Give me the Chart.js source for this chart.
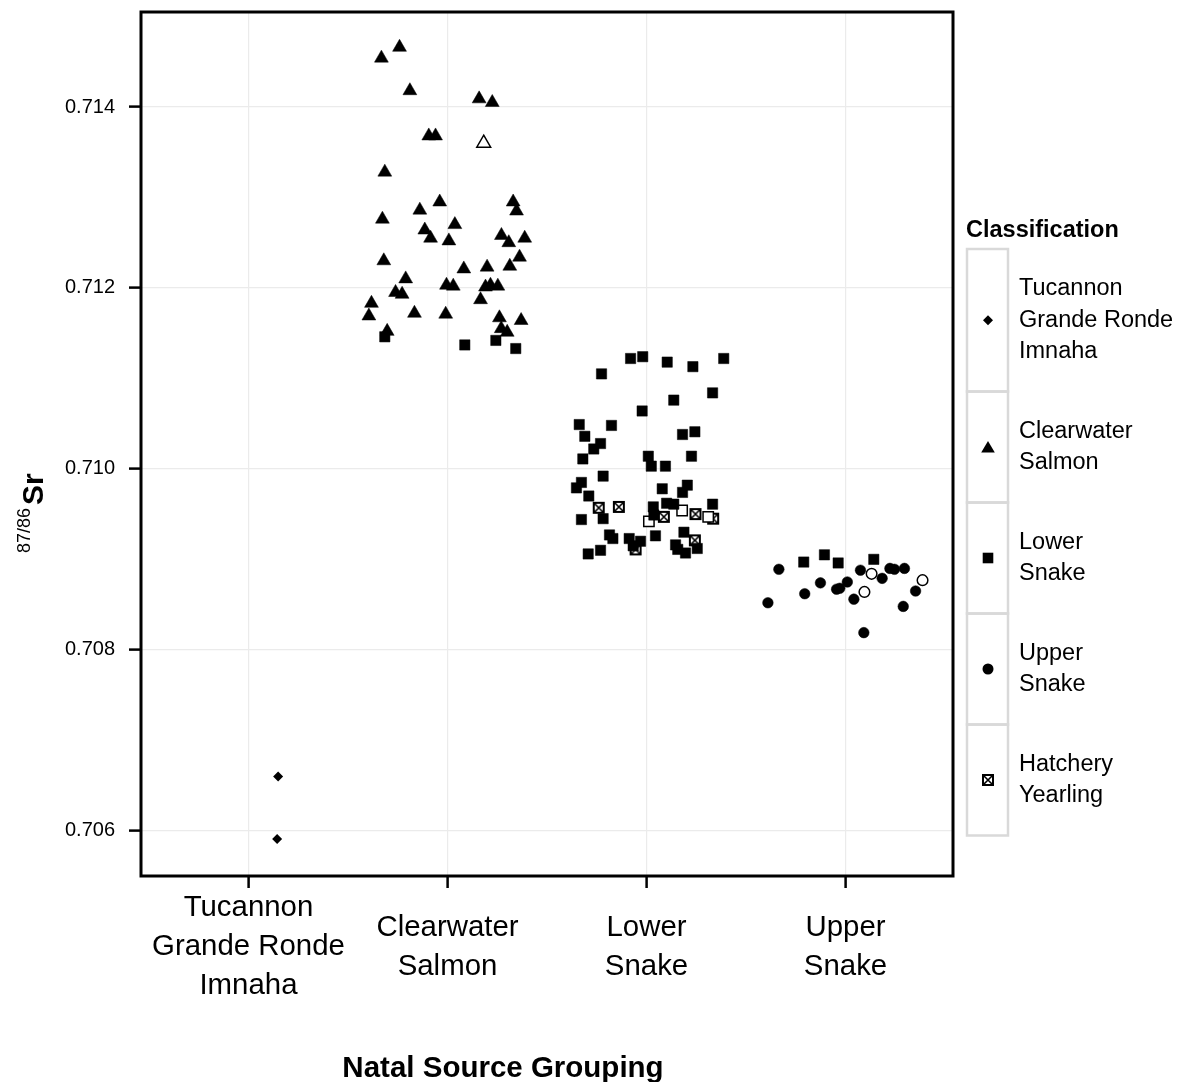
<!DOCTYPE html>
<html>
<head>
<meta charset="utf-8">
<script src="https://cdn.jsdelivr.net/npm/chart.js@4.4.0/dist/chart.umd.min.js"></script>
<style>
  html, body { margin: 0; padding: 0; background: #fff; }
  #wrap { width: 1178px; height: 1082px; }
</style>
</head>
<body>
<div id="wrap"><canvas id="plot" width="1178" height="1082"></canvas></div>
<script>
// categories on the x axis (positions 1..4)
const groupPos = [1, 2, 3, 4];
const groupLabels = [
  ['Tucannon', 'Grande Ronde', 'Imnaha'],
  ['Clearwater', 'Salmon'],
  ['Lower', 'Snake'],
  ['Upper', 'Snake']
];
const yTicks = [0.706, 0.708, 0.710, 0.712, 0.714];

// points as [jittered group position, 87/86 Sr]
const tucannonPts = [[1.149, 0.70660], [1.144, 0.70591]];

const clearwaterPts = [
  [1.668, 0.71454], [1.759, 0.71466], [1.811, 0.71418], [2.159, 0.71409], [2.225, 0.71405],
  [1.906, 0.71368], [1.940, 0.71368], [1.685, 0.71328], [1.961, 0.71295], [2.330, 0.71295],
  [2.347, 0.71285], [1.861, 0.71286], [1.673, 0.71276], [2.037, 0.71270], [1.886, 0.71264],
  [1.915, 0.71255], [2.007, 0.71252], [2.271, 0.71258], [2.308, 0.71250], [2.388, 0.71255],
  [2.362, 0.71234], [2.313, 0.71224], [1.680, 0.71230], [2.082, 0.71221], [2.199, 0.71223],
  [1.790, 0.71210], [1.739, 0.71195], [1.772, 0.71193], [1.995, 0.71203], [2.029, 0.71202],
  [2.191, 0.71201], [2.216, 0.71203], [2.253, 0.71202], [2.166, 0.71187], [1.618, 0.71183],
  [1.605, 0.71169], [1.834, 0.71172], [1.991, 0.71171], [2.261, 0.71167], [2.370, 0.71164],
  [2.270, 0.71155], [2.300, 0.71151], [1.697, 0.71152]
];
const clearwaterOpen = [[2.182, 0.71360]];

const lowerSnakePts = [
  [1.685, 0.71146], [2.087, 0.71137], [2.243, 0.71142], [2.343, 0.71133],
  [2.920, 0.71122], [2.981, 0.71124], [3.104, 0.71118], [3.233, 0.71113], [3.388, 0.71122],
  [2.774, 0.71105], [3.332, 0.71084], [3.137, 0.71076], [2.978, 0.71064], [2.662, 0.71049],
  [2.824, 0.71048], [2.690, 0.71036], [3.181, 0.71038], [3.243, 0.71041], [2.769, 0.71028],
  [2.735, 0.71022], [2.680, 0.71011], [3.009, 0.71014], [3.226, 0.71014], [3.024, 0.71003],
  [3.095, 0.71003], [2.782, 0.70992], [2.673, 0.70985], [2.648, 0.70979], [3.205, 0.70982],
  [3.079, 0.70978], [3.181, 0.70974], [2.710, 0.70970], [3.034, 0.70958], [3.101, 0.70962],
  [3.137, 0.70961], [3.332, 0.70961], [3.037, 0.70949], [2.673, 0.70944], [2.782, 0.70945],
  [3.045, 0.70926], [3.188, 0.70930], [2.814, 0.70927], [2.831, 0.70923], [2.913, 0.70923],
  [2.970, 0.70920], [2.933, 0.70915], [3.146, 0.70916], [3.157, 0.70911], [3.196, 0.70907],
  [3.255, 0.70912], [2.769, 0.70910], [2.707, 0.70906],
  [3.790, 0.70897], [3.894, 0.70905], [3.963, 0.70896], [4.142, 0.70900]
];
const lowerSnakeOpen = [[3.179, 0.70954], [3.310, 0.70947], [3.012, 0.70942]];

const hatcheryPts = [
  [2.760, 0.70957], [2.861, 0.70958], [3.246, 0.70950], [3.335, 0.70945],
  [3.087, 0.70947], [2.945, 0.70911], [3.243, 0.70921]
];

const upperSnakePts = [
  [3.610, 0.70852], [3.665, 0.70889], [3.795, 0.70862], [3.874, 0.70874], [3.955, 0.70867],
  [3.971, 0.70868], [4.009, 0.70875], [4.042, 0.70856], [4.075, 0.70888], [4.092, 0.70819],
  [4.184, 0.70879], [4.223, 0.70890], [4.246, 0.70889], [4.296, 0.70890], [4.290, 0.70848],
  [4.352, 0.70865]
];
const upperSnakeOpen = [[4.095, 0.70864], [4.131, 0.70884], [4.387, 0.70877]];

const legendTitle = 'Classification';
const legendLabels = [
  ['Tucannon', 'Grande Ronde', 'Imnaha'],
  ['Clearwater', 'Salmon'],
  ['Lower', 'Snake'],
  ['Upper', 'Snake'],
  ['Hatchery', 'Yearling']
];
const legendShapes = ['diamond', 'triangle', 'square', 'circle', 'hatch'];

const FONT = '"Liberation Sans", Arial, Helvetica, sans-serif';

function toXY(pts) {
  return pts.map(p => ({ x: p[0], y: p[1] }));
}

// boxed-x marker used for the hatchery fish
function makeHatch() {
  const c = document.createElement('canvas');
  c.width = 14; c.height = 14;
  const g = c.getContext('2d');
  g.fillStyle = '#fff';
  g.fillRect(1, 1, 12, 12);
  g.strokeStyle = '#000';
  g.lineWidth = 2;
  g.strokeRect(2, 2, 10, 10);
  g.lineWidth = 1.6;
  g.beginPath();
  g.moveTo(2.5, 2.5); g.lineTo(11.5, 11.5);
  g.moveTo(11.5, 2.5); g.lineTo(2.5, 11.5);
  g.stroke();
  return c;
}
const hatchImg = makeHatch();

function drawSymbol(ctx, kind, x, y) {
  ctx.save();
  ctx.fillStyle = '#000';
  ctx.strokeStyle = '#000';
  ctx.beginPath();
  if (kind === 'diamond') {
    ctx.moveTo(x, y - 5); ctx.lineTo(x + 5, y); ctx.lineTo(x, y + 5); ctx.lineTo(x - 5, y);
    ctx.closePath(); ctx.fill();
  } else if (kind === 'triangle') {
    ctx.moveTo(x, y - 6); ctx.lineTo(x + 6.8, y + 5.5); ctx.lineTo(x - 6.8, y + 5.5);
    ctx.closePath(); ctx.fill();
  } else if (kind === 'square') {
    ctx.rect(x - 5.3, y - 5.3, 10.6, 10.6); ctx.fill();
  } else if (kind === 'circle') {
    ctx.arc(x, y, 5.5, 0, Math.PI * 2); ctx.fill();
  } else if (kind === 'hatch') {
    ctx.drawImage(hatchImg, x - 7, y - 7);
  }
  ctx.restore();
}

const decorations = {
  id: 'decorations',
  afterDraw(chart) {
    const ctx = chart.ctx;
    const a = chart.chartArea;
    ctx.save();

    // panel border
    ctx.strokeStyle = '#000';
    ctx.lineWidth = 3;
    ctx.strokeRect(a.left, a.top, a.right - a.left, a.bottom - a.top);

    // x axis title
    ctx.fillStyle = '#000';
    ctx.font = 'bold 29.5px ' + FONT;
    ctx.textAlign = 'center';
    ctx.textBaseline = 'alphabetic';
    ctx.fillText('Natal Source Grouping', 503, 1077);

    // y axis title: superscript 87/86 then bold Sr, rotated
    ctx.save();
    ctx.translate(43, 553);
    ctx.rotate(-Math.PI / 2);
    ctx.textAlign = 'left';
    ctx.font = '18px ' + FONT;
    ctx.fillText('87/86', 0, -13);
    const w = ctx.measureText('87/86').width;
    ctx.font = 'bold 30px ' + FONT;
    ctx.fillText('Sr', w + 3, 0);
    ctx.restore();

    // legend
    ctx.font = 'bold 23.5px ' + FONT;
    ctx.textAlign = 'left';
    ctx.textBaseline = 'middle';
    ctx.fillText(legendTitle, 966, 231);

    let top = 249;
    ctx.font = '23.5px ' + FONT;
    legendLabels.forEach((lines, i) => {
      const h = lines.length * 31.5 + 48;
      ctx.strokeStyle = '#d9d9d9';
      ctx.lineWidth = 2.5;
      ctx.strokeRect(967, top, 41, h);
      const cy = top + h / 2;
      drawSymbol(ctx, legendShapes[i], 988, cy);
      ctx.fillStyle = '#000';
      lines.forEach((t, j) => {
        ctx.fillText(t, 1019, cy + (j - (lines.length - 1) / 2) * 31.5);
      });
      top += h;
    });

    ctx.restore();
  }
};

const ctx = document.getElementById('plot').getContext('2d');
new Chart(ctx, {
  type: 'scatter',
  data: {
    datasets: [
      {
        label: 'Tucannon Grande Ronde Imnaha',
        data: toXY(tucannonPts),
        pointStyle: 'rectRot',
        pointRadius: 5,
        backgroundColor: '#000',
        borderColor: '#000',
        borderWidth: 0
      },
      {
        label: 'Clearwater Salmon',
        data: toXY(clearwaterPts),
        pointStyle: 'triangle',
        pointRadius: 8,
        backgroundColor: '#000',
        borderColor: '#000',
        borderWidth: 0.5
      },
      {
        label: 'Clearwater Salmon (open)',
        data: toXY(clearwaterOpen),
        pointStyle: 'triangle',
        pointRadius: 8,
        backgroundColor: '#fff',
        borderColor: '#000',
        borderWidth: 1.5
      },
      {
        label: 'Lower Snake',
        data: toXY(lowerSnakePts),
        pointStyle: 'rect',
        pointRadius: 7.3,
        backgroundColor: '#000',
        borderColor: '#000',
        borderWidth: 0.5
      },
      {
        label: 'Lower Snake (open)',
        data: toXY(lowerSnakeOpen),
        pointStyle: 'rect',
        pointRadius: 7.3,
        backgroundColor: '#fff',
        borderColor: '#000',
        borderWidth: 1.5
      },
      {
        label: 'Hatchery Yearling',
        data: toXY(hatcheryPts),
        pointStyle: hatchImg
      },
      {
        label: 'Upper Snake',
        data: toXY(upperSnakePts),
        pointStyle: 'circle',
        pointRadius: 5.3,
        backgroundColor: '#000',
        borderColor: '#000',
        borderWidth: 0.5
      },
      {
        label: 'Upper Snake (open)',
        data: toXY(upperSnakeOpen),
        pointStyle: 'circle',
        pointRadius: 5.3,
        backgroundColor: '#fff',
        borderColor: '#000',
        borderWidth: 1.5
      }
    ]
  },
  options: {
    responsive: false,
    animation: false,
    events: [],
    layout: { padding: { left: 0, right: 225, top: 12, bottom: 0 } },
    plugins: {
      legend: { display: false },
      tooltip: { enabled: false }
    },
    scales: {
      x: {
        type: 'linear',
        min: 0.46,
        max: 4.54,
        afterBuildTicks: s => { s.ticks = groupPos.map(v => ({ value: v })); },
        afterFit: s => {
          s.height = 206;
          s.paddingLeft = 0; s.paddingRight = 0;
        },
        border: { display: false },
        grid: {
          color: '#ebebeb',
          lineWidth: 1.2,
          tickLength: 12,
          tickColor: '#000',
          tickWidth: 2.5
        },
        ticks: {
          autoSkip: false,
          maxRotation: 0,
          crossAlign: 'center',
          padding: 20,
          color: '#000',
          font: { family: FONT, size: 29.4, lineHeight: 1.33 },
          callback: v => groupLabels[groupPos.indexOf(v)]
        }
      },
      y: {
        type: 'linear',
        min: 0.7055,
        max: 0.71505,
        afterBuildTicks: s => { s.ticks = yTicks.map(v => ({ value: v })); },
        afterFit: s => {
          s.width = 141;
          s.paddingTop = 0; s.paddingBottom = 0;
        },
        border: { display: false },
        grid: {
          color: '#ebebeb',
          lineWidth: 1.2,
          tickLength: 12,
          tickColor: '#000',
          tickWidth: 2.5
        },
        ticks: {
          padding: 14,
          color: '#000',
          font: { family: FONT, size: 20 },
          callback: v => v.toFixed(3)
        }
      }
    }
  },
  plugins: [decorations]
});
</script>
</body>
</html>
